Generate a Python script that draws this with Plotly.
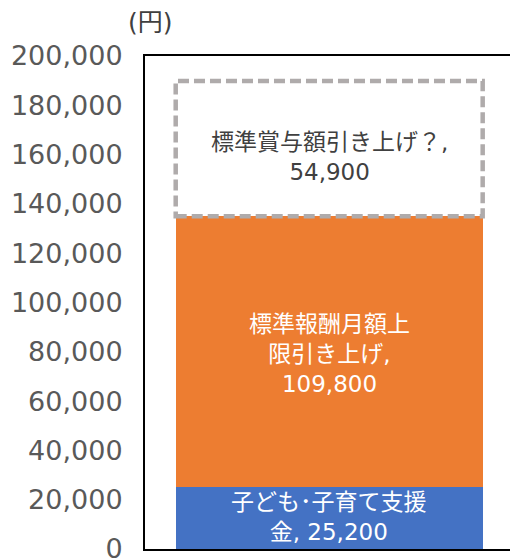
import plotly.graph_objects as go

categories = ["合計"]
segment_names = ["子ども･子育て支援<br>金, 25,200",
                 "標準報酬月額上<br>限引き上げ,<br>109,800",
                 "標準賞与額引き上げ？,<br>54,900"]
segment_values = [25200, 109800, 54900]
segment_colors = ["#4472C4", "#ED7D31", "#FFFFFF"]
label_colors = ["#FFFFFF", "#FFFFFF", "#404040"]
y_ticks = list(range(0, 200001, 20000))
y_tick_labels = [f"{v:,}" for v in y_ticks]

FONT = "DejaVu Sans, Noto Sans CJK JP, sans-serif"
label_yshift = [1, -2, -8]

fig = go.Figure()
x_pos = [0]
for val, col in zip(segment_values, segment_colors):
    fig.add_trace(go.Bar(x=x_pos, y=[val], width=1.0, marker=dict(color=col, line=dict(width=0)),
                         hoverinfo="skip", showlegend=False))

# dashed outline around the last (undecided) segment, computed from data
base = sum(segment_values[:-1])
top = sum(segment_values)
fig.add_shape(type="rect", xref="x", yref="y", x0=x_pos[0] - 0.5, x1=x_pos[0] + 0.5,
              y0=base, y1=top, line=dict(color="#AFABAB", width=4.5, dash="11px,5px"),
              fillcolor="rgba(0,0,0,0)", layer="above")

# segment labels at centers
cum = 0
for name, val, lc, ys in zip(segment_names, segment_values, label_colors, label_yshift):
    fig.add_annotation(x=x_pos[0], y=cum + val / 2, xref="x", yref="y", text=name,
                       showarrow=False, font=dict(family=FONT, size=23, color=lc),
                       align="center", yshift=ys)
    cum += val

fig.add_annotation(xref="paper", yref="paper", x=0, y=1, text="(円)", showarrow=False,
                   xanchor="center", yanchor="middle", xshift=5, yshift=34,
                   font=dict(family=FONT, size=25, color="#404040"))

fig.update_layout(
    barmode="stack",
    width=510, height=560,
    margin=dict(l=145, r=0, t=56, b=11, pad=0, autoexpand=False),
    plot_bgcolor="white", paper_bgcolor="white",
    xaxis=dict(range=[-0.6, 0.589], showticklabels=False, showgrid=False, zeroline=False,
               showline=True, linecolor="black", linewidth=2, mirror=True, ticks="",
               automargin=False),
    yaxis=dict(range=[0, 200000], tickvals=y_ticks, ticktext=y_tick_labels, showgrid=False,
               zeroline=False, showline=True, linecolor="black", linewidth=2, ticks="",
               ticklabelstandoff=15, ticklabeloverflow="allow", automargin=False,
               tickfont=dict(family=FONT, size=27, color="#595959")),
)

fig.write_html("out.html")
